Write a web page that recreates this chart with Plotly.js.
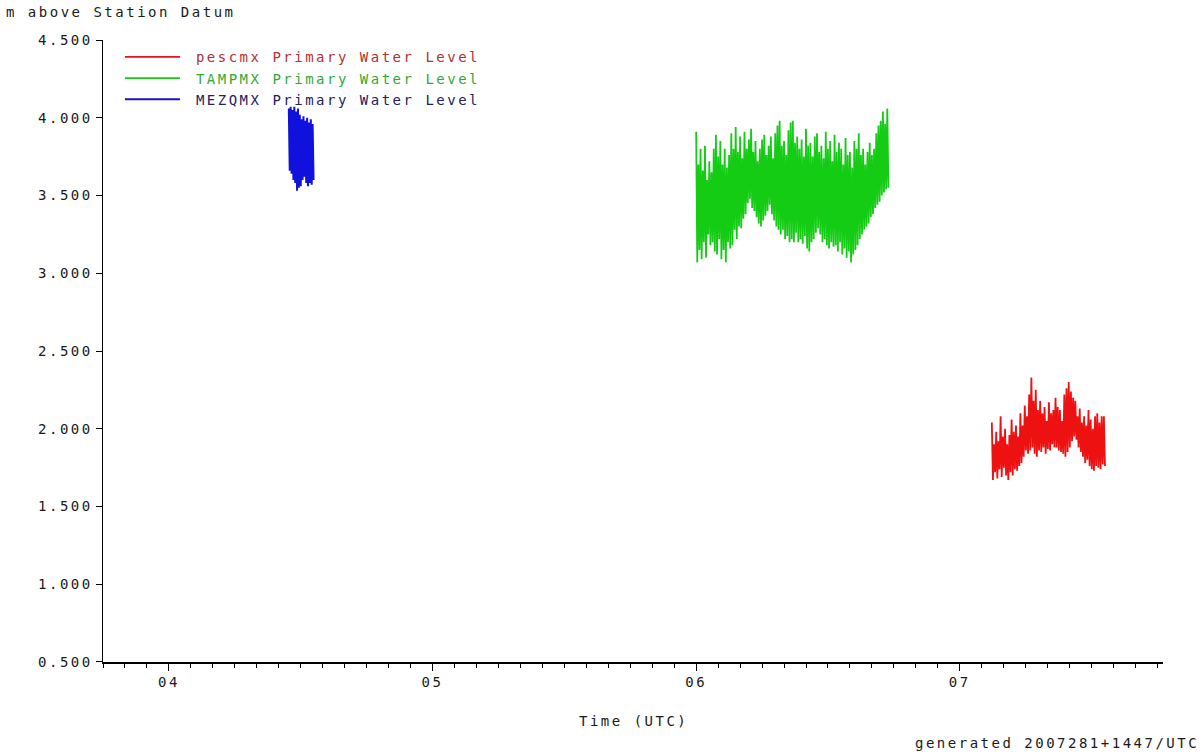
<!DOCTYPE html>
<html>
<head>
<meta charset="utf-8">
<script src="https://cdn.plot.ly/plotly-3.0.1.min.js"></script>
<style>
html,body{margin:0;padding:0;background:#fff;}
#chart{width:1203px;height:755px;}
svg text{letter-spacing:2.5px;}
</style>
</head>
<body>
<div id="chart"></div>
<script>
// ---- data ----
var seriesNames = ["pescmx Primary Water Level", "TAMPMX Primary Water Level", "MEZQMX Primary Water Level"];

// pescmx (red) : samples every 6 min starting 2007-10-07 02:55 UTC
var pescStart = "2007-10-07T02:55:00Z";
var pescStepMin = 6;
var pescValues = [2.04,1.67,1.90,1.72,1.98,1.68,1.92,1.74,2.08,1.69,1.95,1.75,2.00,1.70,1.90,1.67,
  1.96,1.72,2.06,1.70,1.98,1.74,2.02,1.73,1.95,1.76,2.10,1.78,2.02,1.82,2.15,1.86,2.08,1.84,
  2.22,1.86,2.33,1.88,2.18,1.84,2.25,1.82,2.12,1.86,2.18,1.85,2.10,1.88,2.14,1.84,2.05,1.87,
  2.17,1.86,2.10,1.90,2.12,1.88,2.20,1.88,2.14,1.86,2.12,1.85,2.05,1.84,2.22,1.82,2.26,1.85,
  2.30,1.88,2.24,1.92,2.20,1.95,2.18,1.93,2.08,1.88,2.13,1.85,2.04,1.82,2.08,1.78,2.02,1.80,
  2.12,1.76,2.06,1.74,2.00,1.73,2.08,1.76,2.10,1.75,2.04,1.74,2.08,1.77,2.08,1.76];

// TAMPMX (green) : samples every 6 min starting 2007-10-06 00:00 UTC
var tampStart = "2007-10-06T00:00:00Z";
var tampStepMin = 6;
var tampValues = [3.91,3.07,3.70,3.15,3.80,3.09,3.66,3.20,3.82,3.10,3.60,3.25,3.72,3.18,3.65,3.20,
  3.80,3.14,3.89,3.12,3.75,3.22,3.85,3.09,3.70,3.15,3.80,3.07,3.68,3.20,3.76,3.16,3.90,3.18,
  3.80,3.28,3.94,3.22,3.78,3.30,3.88,3.29,3.74,3.35,3.91,3.38,3.80,3.45,3.86,3.48,3.93,3.42,
  3.78,3.40,3.85,3.36,3.72,3.32,3.80,3.30,3.86,3.34,3.89,3.37,3.76,3.40,3.82,3.44,3.88,3.38,
  3.74,3.34,3.90,3.30,3.95,3.28,3.98,3.25,3.82,3.28,3.85,3.22,3.76,3.24,3.92,3.20,3.97,3.22,
  3.98,3.20,3.84,3.26,3.88,3.20,3.80,3.22,3.86,3.19,3.75,3.24,3.93,3.16,3.82,3.14,3.84,3.20,
  3.75,3.22,3.88,3.26,3.90,3.29,3.78,3.25,3.82,3.20,3.74,3.22,3.91,3.18,3.80,3.16,3.85,3.20,
  3.72,3.17,3.89,3.18,3.78,3.14,3.84,3.20,3.80,3.12,3.70,3.16,3.87,3.10,3.76,3.14,3.78,3.07,
  3.68,3.12,3.85,3.15,3.80,3.18,3.90,3.22,3.76,3.25,3.80,3.28,3.70,3.30,3.78,3.32,3.84,3.36,
  3.76,3.38,3.80,3.42,3.90,3.44,3.95,3.46,3.98,3.50,4.04,3.52,3.96,3.54,4.06,3.55];

// MEZQMX (blue) : samples every 5 min starting 2007-10-04 10:55 UTC
var mezqStart = "2007-10-04T10:55:00Z";
var mezqStepMin = 5;
var mezqValues = [4.06,3.66,4.07,3.64,4.05,3.60,4.07,3.58,4.04,3.53,4.06,3.55,4.02,3.56,
  3.99,3.60,4.01,3.62,3.98,3.58,4.00,3.56,3.97,3.58,3.99,3.57,3.96,3.60];

var yTickVals = [0.5,1.0,1.5,2.0,2.5,3.0,3.5,4.0,4.5];
var xDayTicks = ["2007-10-04","2007-10-05","2007-10-06","2007-10-07"];
var xDayLabels = ["04","05","06","07"];

// ---- helpers ----
function times(start, stepMin, n){
  var t0 = Date.parse(start), out = [];
  for (var i=0;i<n;i++){
    var d = new Date(t0 + i*stepMin*60000);
    out.push(d.toISOString().replace("T"," ").replace("Z","").slice(0,19));
  }
  return out;
}

var mono = "DejaVu Sans Mono, monospace";
var txt = "#1a1a1a";

var traces = [
  {x: times(pescStart,pescStepMin,pescValues.length), y: pescValues, mode:"lines",
   name:'&nbsp;<span style="color:#b03232">'+seriesNames[0]+'</span>',
   line:{color:"#ee1111", width:1.8}},
  {x: times(tampStart,tampStepMin,tampValues.length), y: tampValues, mode:"lines",
   name:'&nbsp;<span style="color:#34a834">'+seriesNames[1]+'</span>',
   line:{color:"#14cc14", width:1.8}},
  {x: times(mezqStart,mezqStepMin,mezqValues.length), y: mezqValues, mode:"lines",
   name:'&nbsp;<span style="color:#22225e">'+seriesNames[2]+'</span>',
   line:{color:"#1111dd", width:2}}
];

var layout = {
  width:1203, height:755,
  margin:{l:103, r:40, t:40, b:93},
  paper_bgcolor:"#ffffff", plot_bgcolor:"#ffffff",
  font:{family:mono, size:14, color:txt},
  showlegend:true,
  legend:{x:0.016, y:0.998, xanchor:"left", yanchor:"top", bgcolor:"rgba(0,0,0,0)",
          font:{family:mono, size:14}, itemwidth:55, tracegroupgap:0, traceorder:"normal"},
  xaxis:{type:"date", range:["2007-10-03 18:00","2007-10-07 18:30"],
         tickvals:xDayTicks, ticktext:xDayLabels,
         ticks:"outside", ticklen:7, tickcolor:"#000", tickwidth:1,
         minor:{dtick:7200000, tick0:"2007-10-04", ticks:"outside", ticklen:4, tickcolor:"#000", tickwidth:1, showgrid:false},
         showline:true, linecolor:"#000", linewidth:1.5, showgrid:false, zeroline:false,
         tickfont:{family:mono, size:14, color:txt}, fixedrange:true},
  yaxis:{range:[0.4999,4.5001], tickvals:yTickVals, tickformat:".3f",
         ticks:"outside", ticklen:6, tickcolor:"#000", tickwidth:1,
         showline:true, linecolor:"#000", linewidth:1.5, showgrid:false, zeroline:false,
         tickfont:{family:mono, size:14, color:txt}, fixedrange:true},
  annotations:[
    {text:"m above Station Datum", xref:"paper", yref:"paper", x:-0.0935, y:1.045,
     xanchor:"left", yanchor:"middle", showarrow:false, font:{family:mono, size:14, color:txt}},
    {text:"Time (UTC)", xref:"paper", yref:"paper", x:0.5, y:-0.095,
     xanchor:"center", yanchor:"middle", showarrow:false, font:{family:mono, size:14, color:txt}},
    {text:"generated 2007281+1447/UTC", xref:"paper", yref:"paper", x:1.036, y:-0.13,
     xanchor:"right", yanchor:"middle", showarrow:false, font:{family:mono, size:14, color:txt}}
  ]
};

Plotly.newPlot("chart", traces, layout, {displayModeBar:false, staticPlot:true});
</script>
</body>
</html>
